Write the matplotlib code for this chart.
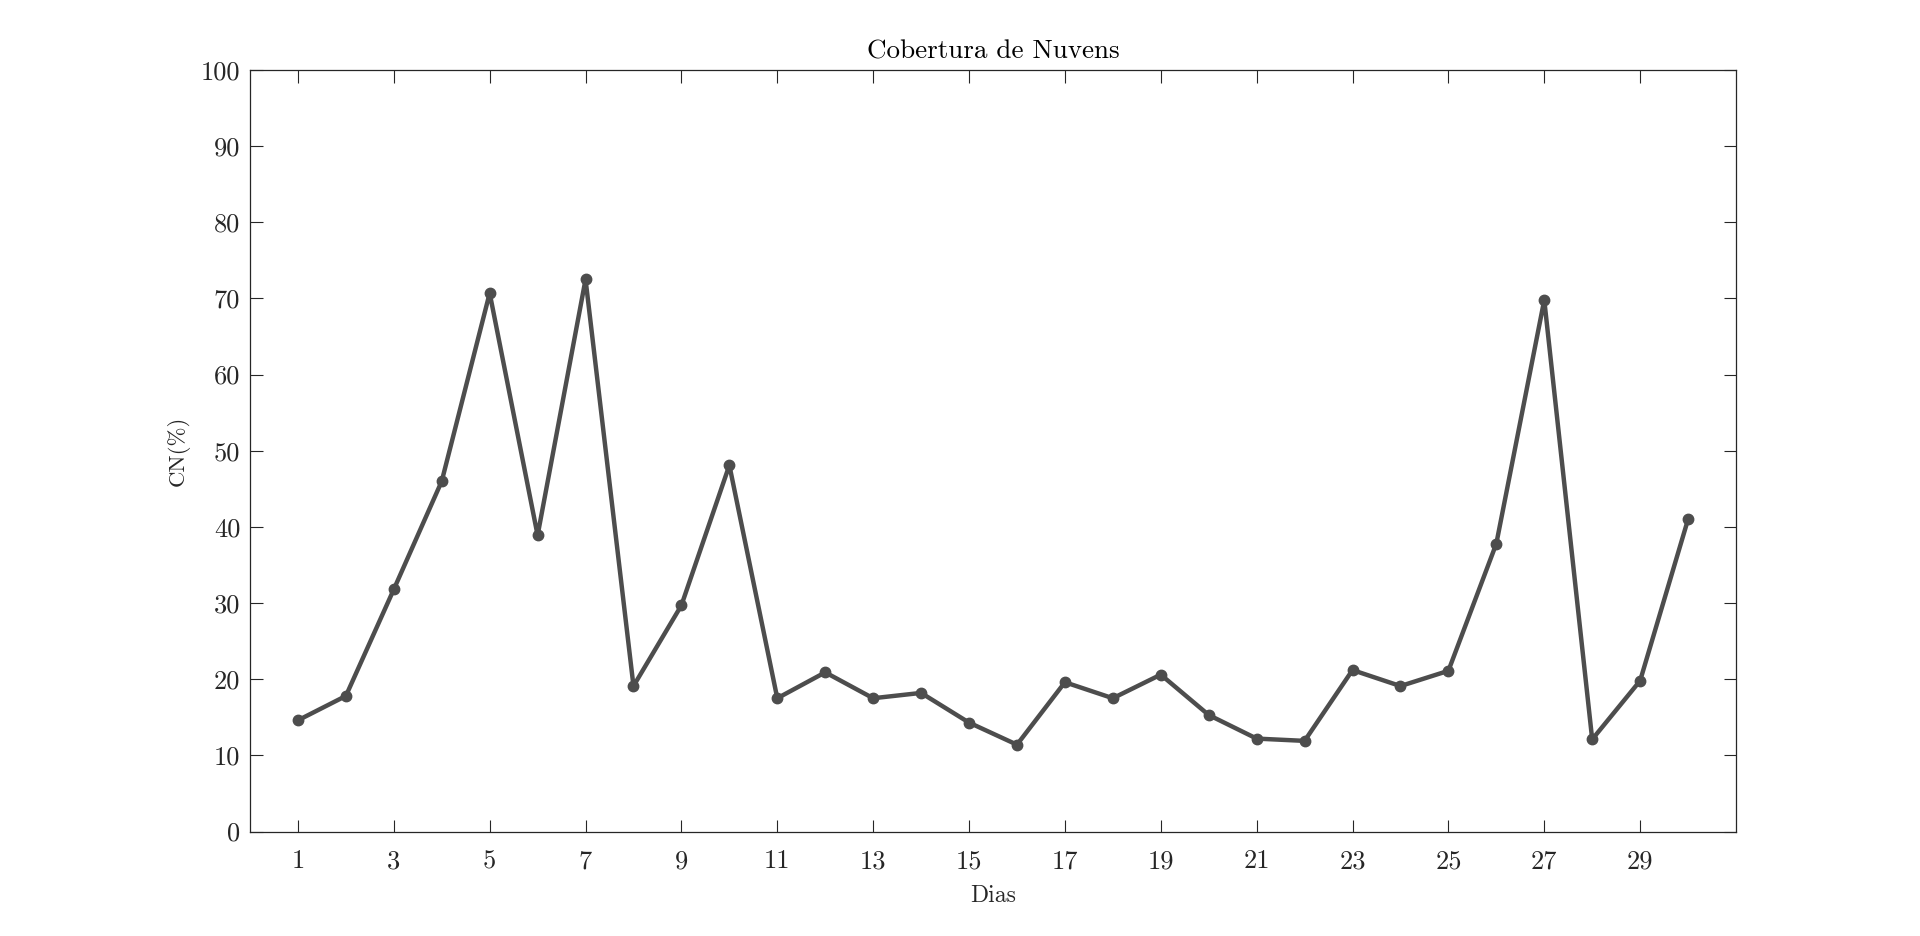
import matplotlib
matplotlib.use('Agg')
import matplotlib.pyplot as plt
import numpy as np

# dados
dias = np.arange(1, 31)
cn = [14.6, 17.8, 31.8, 46.0, 70.7, 38.9, 72.5, 19.1, 29.7, 48.1,
      17.5, 20.9, 17.5, 18.2, 14.3, 11.4, 19.6, 17.5, 20.6, 15.3,
      12.2, 11.9, 21.2, 19.1, 21.1, 37.8, 69.8, 12.1, 19.8, 41.0]
xticks = np.arange(1, 30, 2)
yticks = np.arange(0, 101, 10)

plt.rcParams['font.family'] = ['cmr10', 'DejaVu Serif']
plt.rcParams['mathtext.fontset'] = 'cm'
plt.rcParams['axes.unicode_minus'] = False

fig = plt.figure(figsize=(19.2, 9.36), dpi=100)
ax = fig.add_axes([250/1920, 1 - 831.5/936, (1736-250)/1920, (831.5-70)/936])

ax.plot(dias, cn, color='#4d4d4d', lw=3.2, marker='o', ms=7.5)

ax.set_xlim(0, 31)
ax.set_ylim(0, 100)
ax.set_xticks(xticks)
ax.set_yticks(yticks)
ax.tick_params(direction='in', length=9, width=0.8, top=True, right=True,
               labelsize=19, colors='#262626')
ax.tick_params(axis='x', pad=13)
ax.tick_params(axis='y', pad=7)
for s in ax.spines.values():
    s.set_color('#262626')
    s.set_linewidth(0.9)

ax.set_title('Cobertura de Nuvens', fontsize=19.5, pad=8)
ax.set_xlabel('Dias', fontsize=17, color='#262626', labelpad=8)
ax.set_ylabel('CN(%)', fontsize=16.5, color='#262626', labelpad=8)

fig.savefig('out.png', dpi=100)
